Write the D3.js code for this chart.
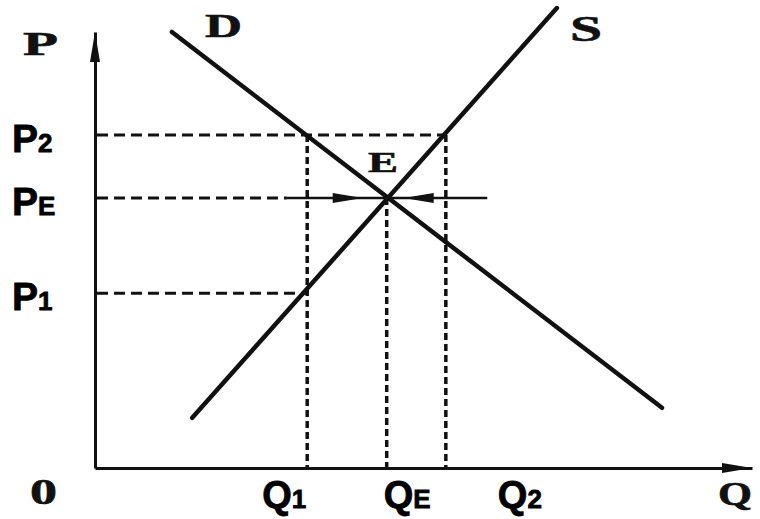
<!DOCTYPE html>
<html>
<head>
<meta charset="utf-8">
<script src="https://cdn.jsdelivr.net/npm/d3@7"></script>
<style>
  body { margin: 0; background: #fff; }
  .serif { font-family: "Liberation Serif", "DejaVu Serif", serif; font-weight: bold; fill: #111; stroke: #111; stroke-width: 0.6; }
  .tick-label { font-family: "Liberation Sans", Arial, sans-serif; font-weight: bold; fill: #000; stroke: #000; stroke-width: 0.8; }
</style>
</head>
<body>
<div id="vis"></div>
<script>
const FRAME_WIDTH = 760;
const FRAME_HEIGHT = 519;
const ORIGIN = { x: 95, y: 468 };
const AXIS_END = { x: 752, y: 32 };

// data (in chart units)
const PRICES = [7.64, 6.19, 4.01];
const PRICE_SUBS = ["2", "E", "1"];
const QUANTITIES = [3.23, 4.44, 5.34];
const QUANTITY_SUBS = ["1", "E", "2"];
const DEMAND = [[1.17, 10.0], [8.63, 1.38]];
const SUPPLY = [[1.48, 1.15], [7.03, 10.55]];
const EQUILIBRIUM = [4.44, 6.19];
const ARROW_STARTS = [2.92, 5.97];

const FRAME = d3.select("#vis")
	.append("svg")
	.attr("width", FRAME_WIDTH)
	.attr("height", FRAME_HEIGHT);

const X_SCALE = d3.scaleLinear().domain([0, 10]).range([ORIGIN.x, AXIS_END.x]);
const Y_SCALE = d3.scaleLinear().domain([0, 10]).range([ORIGIN.y, AXIS_END.y]);

// axes, no ticks
FRAME.append("g")
	.attr("transform", `translate(0, ${ORIGIN.y})`)
	.call(d3.axisBottom(X_SCALE).tickValues([]).tickSizeOuter(0))
	.select(".domain")
	.attr("stroke", "#111")
	.attr("stroke-width", 3);

FRAME.append("g")
	.attr("transform", `translate(${ORIGIN.x}, 0)`)
	.call(d3.axisLeft(Y_SCALE).tickValues([]).tickSizeOuter(0))
	.select(".domain")
	.attr("stroke", "#111")
	.attr("stroke-width", 3);

// axis arrow heads
const xTip = X_SCALE(10), yTip = Y_SCALE(10);
FRAME.append("path")
	.attr("d", `M${xTip},${ORIGIN.y} L${xTip - 30},${ORIGIN.y - 5} L${xTip - 30},${ORIGIN.y + 5} Z`)
	.attr("fill", "#111");
FRAME.append("path")
	.attr("d", `M${ORIGIN.x},${yTip} L${ORIGIN.x - 5},${yTip + 30} L${ORIGIN.x + 5},${yTip + 30} Z`)
	.attr("fill", "#111");

// guide lines
const H_GUIDES = [
	{ p: PRICES[0], q0: 0, q1: QUANTITIES[2] },
	{ p: PRICES[1], q0: 0, q1: ARROW_STARTS[0] },
	{ p: PRICES[2], q0: 0, q1: QUANTITIES[0] }
];
const V_GUIDES = [
	{ q: QUANTITIES[0], p: PRICES[0] },
	{ q: QUANTITIES[1], p: PRICES[1] },
	{ q: QUANTITIES[2], p: PRICES[0] }
];

FRAME.selectAll(".hguide")
	.data(H_GUIDES)
	.enter()
	.append("line")
	.attr("x1", (d) => X_SCALE(d.q0) + 2)
	.attr("x2", (d) => X_SCALE(d.q1))
	.attr("y1", (d) => Y_SCALE(d.p))
	.attr("y2", (d) => Y_SCALE(d.p))
	.attr("stroke", "#111")
	.attr("stroke-width", 3)
	.attr("stroke-dasharray", "11,6");

FRAME.selectAll(".vguide")
	.data(V_GUIDES)
	.enter()
	.append("line")
	.attr("x1", (d) => X_SCALE(d.q))
	.attr("x2", (d) => X_SCALE(d.q))
	.attr("y1", (d) => Y_SCALE(d.p))
	.attr("y2", ORIGIN.y)
	.attr("stroke", "#111")
	.attr("stroke-width", 3.5)
	.attr("stroke-dasharray", "7,4");

// shortage / surplus arrows pointing to E
const ex = X_SCALE(EQUILIBRIUM[0]), ey = Y_SCALE(EQUILIBRIUM[1]);
ARROW_STARTS.forEach((q) => {
	const sx = X_SCALE(q);
	const dir = sx < ex ? 1 : -1;
	const tip = dir > 0 ? ex - 24 : ex + 17;
	FRAME.append("line")
		.attr("x1", sx).attr("x2", ex)
		.attr("y1", ey).attr("y2", ey)
		.attr("stroke", "#111")
		.attr("stroke-width", 2.5);
	FRAME.append("path")
		.attr("d", `M${tip},${ey} L${tip - dir * 30},${ey - 5} L${tip - dir * 30},${ey + 5} Z`)
		.attr("fill", "#111");
});

// demand and supply
const LINE = d3.line().x((d) => X_SCALE(d[0])).y((d) => Y_SCALE(d[1]));
[DEMAND, SUPPLY].forEach((curve) => {
	FRAME.append("path")
		.attr("d", LINE(curve))
		.attr("fill", "none")
		.attr("stroke", "#111")
		.attr("stroke-width", 4.5)
		.attr("stroke-linecap", "round");
});

// serif letters from the original figure
const SERIF_LABELS = [
	{ t: "P", x: 23, y: 55, size: 33, len: 35 },
	{ t: "D", x: 205, y: 37, size: 33, len: 37 },
	{ t: "S", x: 570, y: 41, size: 35, len: 32 },
	{ t: "E", x: 368, y: 172, size: 29, len: 30 },
	{ t: "0", x: 30, y: 504, size: 35, len: 27 },
	{ t: "Q", x: 718, y: 505, size: 33, len: 34 }
];
FRAME.selectAll(".serif")
	.data(SERIF_LABELS)
	.enter()
	.append("text")
	.attr("class", "serif")
	.attr("x", (d) => d.x)
	.attr("y", (d) => d.y)
	.attr("font-size", (d) => d.size)
	.attr("textLength", (d) => d.len)
	.attr("lengthAdjust", "spacingAndGlyphs")
	.text((d) => d.t);

// price labels
PRICES.forEach((p, i) => {
	const t = FRAME.append("text")
		.attr("class", "tick-label")
		.attr("x", 12)
		.attr("y", Y_SCALE(p) + 17);
	t.append("tspan").attr("font-size", 39).text("P");
	t.append("tspan").attr("font-size", 26).text(PRICE_SUBS[i]);
});

// quantity labels (placed as in the original, not centred on their lines)
const Q_LABEL_SHIFT = [-45, -3, 52];
QUANTITIES.forEach((q, i) => {
	const t = FRAME.append("text")
		.attr("class", "tick-label")
		.attr("x", X_SCALE(q) + Q_LABEL_SHIFT[i])
		.attr("y", 508);
	t.append("tspan").attr("font-size", 38).text("Q");
	t.append("tspan").attr("font-size", 26).text(QUANTITY_SUBS[i]);
});
</script>
</body>
</html>
